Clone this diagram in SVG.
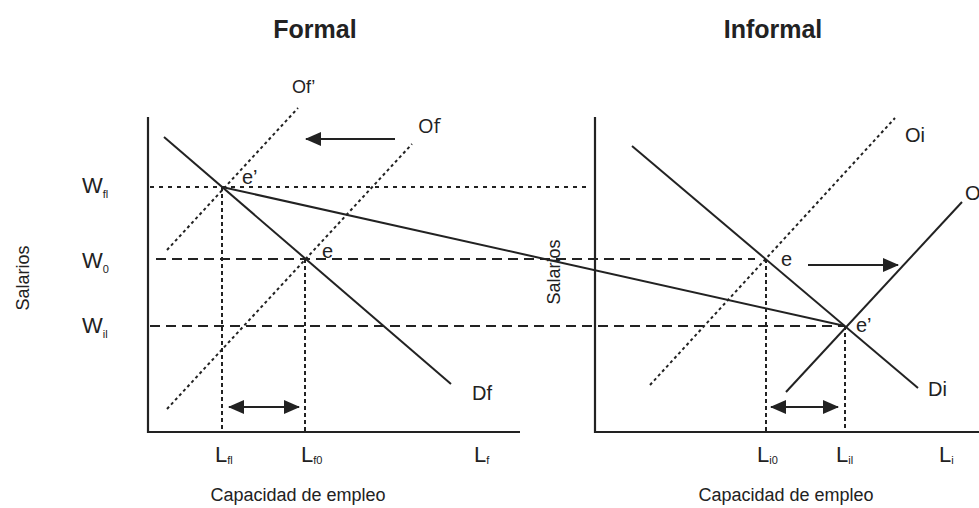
<svg xmlns="http://www.w3.org/2000/svg" width="979" height="508" viewBox="0 0 979 508">
<defs>
<marker id="ahb" markerWidth="16" markerHeight="14" refX="15" refY="7" orient="auto-start-reverse" markerUnits="userSpaceOnUse" viewBox="0 0 16 14">
<path d="M0,0 L16,7 L0,14 z" fill="#222"/>
</marker>
</defs>
<style>
.axis{stroke:#222;stroke-width:2.2;fill:none}
.solid{stroke:#222;stroke-width:2;fill:none}
.dot{stroke:#222;stroke-width:2;stroke-dasharray:3,3;fill:none}
.dot2{stroke:#222;stroke-width:2;stroke-dasharray:4,5;fill:none}
.dash{stroke:#222;stroke-width:2;stroke-dasharray:10,6;fill:none}
.vdot{stroke:#222;stroke-width:2;stroke-dasharray:4,3;fill:none}
text{font-family:"Liberation Sans",Arial,sans-serif;fill:#222}
.t{font-size:18px}
.c{font-size:20px}
.big{font-size:22px}
.title{font-size:25px;font-weight:bold}
.sub{font-size:11px}
</style>
<rect width="979" height="508" fill="#fff"/>

<g id="axes">
<path class="axis" d="M148,117 V432 H520"/>
<path class="axis" d="M595,117 V432 H979"/>
</g>

<g id="guides">
<line class="dot2" x1="150" y1="187" x2="590" y2="187"/>
<line class="dash" x1="156" y1="259" x2="755" y2="259"/>
<line class="dash" x1="150" y1="326" x2="845" y2="326"/>
<line class="vdot" x1="222" y1="187" x2="222" y2="432"/>
<line class="vdot" x1="305" y1="259" x2="305" y2="432"/>
<line class="vdot" x1="766" y1="259" x2="766" y2="432"/>
<line class="vdot" x1="845" y1="326" x2="845" y2="432"/>
</g>

<g id="curves">
<line id="Df" class="solid" x1="164" y1="137" x2="451" y2="384"/>
<line id="Ofp" class="dot" x1="167" y1="250" x2="298" y2="108"/>
<line id="Of" class="dot" x1="167" y1="409" x2="412" y2="144"/>
<line id="Di" class="solid" x1="632" y1="146" x2="918" y2="388"/>
<line id="Oi" class="dot" x1="650" y1="385" x2="895" y2="118"/>
<line id="Oip" class="solid" x1="786" y1="392" x2="962" y2="202"/>
<line id="link" class="solid" x1="222" y1="187" x2="845" y2="326"/>
</g>

<g id="arrows">
<line class="solid" x1="395" y1="139" x2="306" y2="139" marker-end="url(#ahb)"/>
<line class="solid" x1="808" y1="265" x2="898" y2="265" marker-end="url(#ahb)"/>
<line class="solid" x1="229" y1="407" x2="299" y2="407" marker-start="url(#ahb)" marker-end="url(#ahb)"/>
<line class="solid" x1="771" y1="407" x2="838" y2="407" marker-start="url(#ahb)" marker-end="url(#ahb)"/>
</g>

<g id="labels">
<text class="title" x="315" y="38" text-anchor="middle">Formal</text>
<text class="title" x="773" y="38" text-anchor="middle">Informal</text>
<text class="t" x="292" y="93">Of’</text>
<text class="c" x="418" y="133" style="font-family:'Open Sans',sans-serif">Of</text>
<text class="c" x="242" y="184">e’</text>
<text class="c" x="322" y="258">e</text>
<text class="c" x="472" y="400">Df</text>
<text class="c" x="905" y="142">Oi</text>
<text class="c" x="965" y="200">O</text>
<text class="c" x="781" y="266">e</text>
<text class="c" x="856" y="332">e’</text>
<text class="c" x="928" y="396">Di</text>
<text class="big" x="82" y="193">W<tspan class="sub" dy="5">fl</tspan></text>
<text class="big" x="82" y="268">W<tspan class="sub" dy="5">0</tspan></text>
<text class="big" x="82" y="333">W<tspan class="sub" dy="5">il</tspan></text>
<text class="big" x="215" y="462">L<tspan class="sub" dy="2">fl</tspan></text>
<text class="big" x="301" y="462">L<tspan class="sub" dy="2">f0</tspan></text>
<text class="big" x="474" y="462">L<tspan class="sub" dy="2">f</tspan></text>
<text class="big" x="757" y="462">L<tspan class="sub" dy="2">i0</tspan></text>
<text class="big" x="836" y="462">L<tspan class="sub" dy="2">il</tspan></text>
<text class="big" x="939" y="462">L<tspan class="sub" dy="2">i</tspan></text>
<text class="t" x="29" y="278" text-anchor="middle" transform="rotate(-90 29 278)">Salarios</text>
<text class="t" x="560" y="272" text-anchor="middle" transform="rotate(-90 560 272)">Salarios</text>
<text class="t" x="298" y="501" text-anchor="middle">Capacidad de empleo</text>
<text class="t" x="786" y="501" text-anchor="middle">Capacidad de empleo</text>
</g>
</svg>
